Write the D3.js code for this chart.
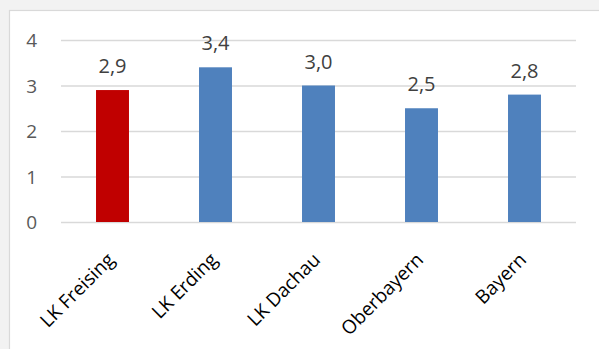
<!DOCTYPE html>
<html>
<head>
<meta charset="utf-8">
<script src="https://cdn.jsdelivr.net/npm/d3@7"></script>
<style>
  html, body { margin: 0; padding: 0; background: #f2f2f2; }
  svg { display: block; }
</style>
</head>
<body>
<svg id="chart" width="599" height="349"></svg>
<script>
// Regions and their values
const categories = ["LK Freising", "LK Erding", "LK Dachau", "Oberbayern", "Bayern"];
const values = [2.9, 3.4, 3.0, 2.5, 2.8];
const barColors = ["#c00000", "#4f81bd", "#4f81bd", "#4f81bd", "#4f81bd"];
const yTicks = [0, 1, 2, 3, 4];

const W = 599, H = 349;
const plot = { left: 61, right: 576, top: 40, bottom: 222 };
const font = "'Open Sans', sans-serif";

const svg = d3.select("#chart");

// chart area panel
svg.append("rect")
  .attr("x", 9.5).attr("y", 10.5)
  .attr("width", W).attr("height", H)
  .attr("fill", "#ffffff")
  .attr("stroke", "#d9d9d9").attr("stroke-width", 1.2);

const x = d3.scaleBand()
  .domain(categories)
  .range([plot.left, plot.right])
  .paddingInner(0.68)
  .paddingOuter(0.34);

const y = d3.scaleLinear().domain([0, 4]).range([plot.bottom, plot.top]);

// y axis: gridlines and tick labels
const yAxis = d3.axisLeft(y)
  .tickValues(yTicks)
  .tickSize(-(plot.right - plot.left))
  .tickPadding(24)
  .tickFormat(d3.format("d"));

const gy = svg.append("g")
  .attr("transform", `translate(${plot.left},0)`)
  .call(yAxis);
gy.select(".domain").remove();
gy.selectAll(".tick line").attr("stroke", "#d9d9d9").attr("stroke-width", 1.3);
gy.selectAll(".tick text")
  .attr("fill", "#595959")
  .style("font-family", font)
  .style("font-size", "19px")
  .attr("dy", "0.36em");

// bars
svg.append("g").selectAll("rect")
  .data(categories)
  .join("rect")
  .attr("x", d => x(d))
  .attr("width", x.bandwidth())
  .attr("y", (d, i) => y(values[i]))
  .attr("height", (d, i) => y(0) - y(values[i]))
  .attr("fill", (d, i) => barColors[i]);

// value labels
const fmt = v => d3.format(".1f")(v).replace(".", ",");
svg.append("g").selectAll("text")
  .data(categories)
  .join("text")
  .attr("x", d => x(d) + x.bandwidth() / 2)
  .attr("y", (d, i) => y(values[i]) - 17)
  .attr("text-anchor", "middle")
  .attr("fill", "#404040")
  .style("font-family", font)
  .style("font-size", "20px")
  .text((d, i) => fmt(values[i]));

// x axis labels, rotated
const xAxis = d3.axisBottom(x).tickSize(0).tickPadding(0);
const gx = svg.append("g")
  .attr("transform", `translate(0,${plot.bottom})`)
  .call(xAxis);
gx.select(".domain").remove();
gx.selectAll(".tick text")
  .attr("fill", "#000000")
  .style("font-family", font)
  .style("font-size", "19px")
  .attr("text-anchor", "end")
  .attr("dy", null)
  .attr("y", null)
  .attr("transform", "translate(3,39) rotate(-45)");
</script>
</body>
</html>
